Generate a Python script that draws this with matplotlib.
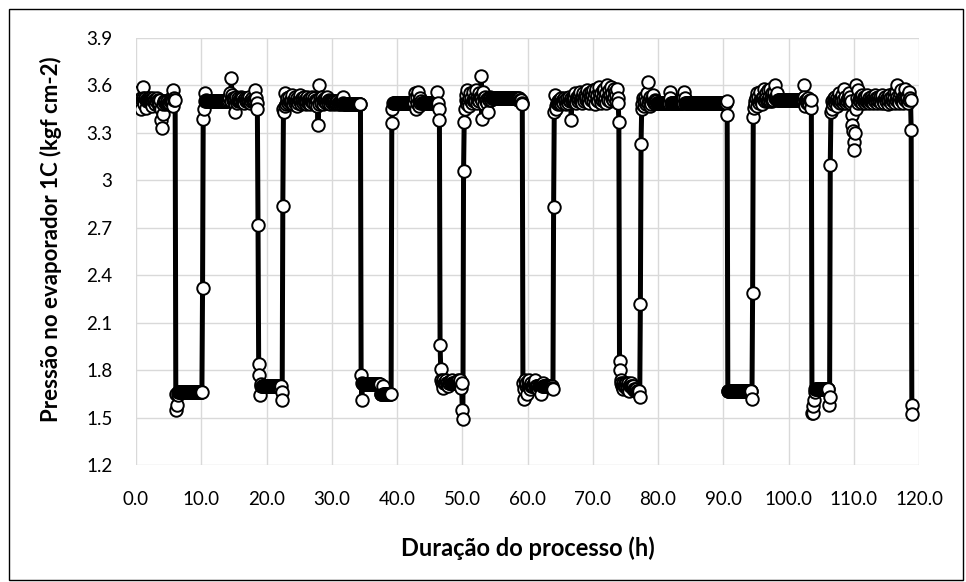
import numpy as np
import matplotlib.pyplot as plt
from matplotlib.patches import Rectangle
from matplotlib.ticker import MultipleLocator, FuncFormatter

# leituras a cada 6 min (0.1 h); uma linha = 1 h de processo
dt_h = 0.1
pressao = [
    3.54, 3.52, 3.50, 3.47, 3.51, 3.56, 3.50, 3.45, 3.52, 3.51,   # 0 h
    3.59, 3.52, 3.51, 3.48, 3.52, 3.51, 3.46, 3.50, 3.52, 3.51,
    3.51, 3.52, 3.51, 3.50, 3.47, 3.51, 3.52, 3.51, 3.50, 3.48,
    3.51, 3.50, 3.52, 3.51, 3.50, 3.47, 3.49, 3.51, 3.45, 3.38,
    3.33, 3.42, 3.48, 3.50, 3.49, 3.50, 3.48, 3.49, 3.50, 3.49,
    3.48, 3.49, 3.50, 3.52, 3.51, 3.50, 3.47, 3.57, 3.52, 3.51,
    3.51, 1.65, 1.55, 1.58, 1.64, 1.66, 1.66, 1.66, 1.66, 1.66,
    1.66, 1.66, 1.66, 1.66, 1.66, 1.66, 1.66, 1.66, 1.66, 1.66,
    1.66, 1.66, 1.66, 1.66, 1.66, 1.66, 1.66, 1.66, 1.66, 1.66,
    1.66, 1.66, 1.66, 1.66, 1.66, 1.66, 1.66, 1.66, 1.66, 1.66,
    1.66, 1.66, 2.32, 3.39, 3.45, 3.55, 3.50, 3.51, 3.50, 3.50,   # 10 h
    3.50, 3.50, 3.50, 3.50, 3.50, 3.50, 3.50, 3.50, 3.50, 3.50,
    3.50, 3.50, 3.50, 3.50, 3.50, 3.50, 3.50, 3.50, 3.50, 3.50,
    3.50, 3.50, 3.50, 3.50, 3.50, 3.50, 3.50, 3.50, 3.50, 3.50,
    3.50, 3.51, 3.52, 3.53, 3.55, 3.50, 3.65, 3.54, 3.52, 3.51,
    3.50, 3.48, 3.43, 3.51, 3.53, 3.49, 3.50, 3.52, 3.51, 3.50,
    3.51, 3.53, 3.50, 3.52, 3.50, 3.51, 3.49, 3.52, 3.50, 3.51,
    3.52, 3.50, 3.51, 3.53, 3.50, 3.49, 3.51, 3.50, 3.52, 3.51,
    3.50, 3.51, 3.52, 3.57, 3.52, 3.49, 3.45, 2.72, 1.84, 1.77,
    1.64, 1.70, 1.71, 1.70, 1.70, 1.70, 1.70, 1.70, 1.70, 1.70,
    1.70, 1.70, 1.70, 1.70, 1.70, 1.70, 1.70, 1.70, 1.70, 1.70,   # 20 h
    1.70, 1.70, 1.70, 1.70, 1.70, 1.70, 1.70, 1.70, 1.70, 1.70,
    1.70, 1.69, 1.70, 1.66, 1.61, 2.84, 3.45, 3.43, 3.47, 3.55,
    3.48, 3.50, 3.52, 3.49, 3.50, 3.53, 3.50, 3.49, 3.51, 3.54,
    3.50, 3.48, 3.51, 3.53, 3.49, 3.50, 3.47, 3.52, 3.50, 3.49,
    3.51, 3.54, 3.50, 3.48, 3.52, 3.50, 3.49, 3.53, 3.50, 3.51,
    3.48, 3.50, 3.53, 3.49, 3.51, 3.50, 3.52, 3.48, 3.50, 3.51,
    3.53, 3.50, 3.49, 3.52, 3.50, 3.48, 3.51, 3.50, 3.47, 3.35,
    3.48, 3.60, 3.52, 3.50, 3.49, 3.53, 3.51, 3.48, 3.50, 3.52,
    3.50, 3.49, 3.51, 3.53, 3.50, 3.49, 3.51, 3.50, 3.48, 3.50,
    3.50, 3.49, 3.50, 3.48, 3.50, 3.49, 3.50, 3.49, 3.50, 3.49,   # 30 h
    3.48, 3.49, 3.50, 3.48, 3.49, 3.48, 3.50, 3.53, 3.49, 3.48,
    3.48, 3.48, 3.48, 3.48, 3.48, 3.48, 3.48, 3.48, 3.48, 3.48,
    3.48, 3.48, 3.48, 3.48, 3.48, 3.48, 3.48, 3.48, 3.48, 3.48,
    3.48, 3.48, 3.48, 3.48, 3.48, 1.77, 1.61, 1.72, 1.71, 1.71,
    1.71, 1.71, 1.71, 1.71, 1.71, 1.71, 1.71, 1.71, 1.71, 1.71,
    1.71, 1.71, 1.71, 1.71, 1.71, 1.71, 1.71, 1.71, 1.71, 1.71,
    1.71, 1.71, 1.71, 1.71, 1.71, 1.65, 1.65, 1.65, 1.70, 1.65,
    1.65, 1.65, 1.65, 1.65, 1.65, 1.65, 1.65, 1.65, 1.65, 1.65,
    1.65, 1.65, 3.36, 3.45, 3.49, 3.49, 3.49, 3.49, 3.49, 3.49,
    3.49, 3.49, 3.49, 3.49, 3.49, 3.49, 3.49, 3.49, 3.49, 3.49,   # 40 h
    3.49, 3.49, 3.49, 3.49, 3.49, 3.49, 3.49, 3.49, 3.49, 3.49,
    3.49, 3.49, 3.49, 3.49, 3.49, 3.49, 3.49, 3.55, 3.52, 3.45,
    3.49, 3.53, 3.56, 3.50, 3.47, 3.52, 3.49, 3.50, 3.49, 3.49,
    3.49, 3.49, 3.49, 3.49, 3.49, 3.49, 3.49, 3.49, 3.49, 3.49,
    3.49, 3.49, 3.49, 3.49, 3.49, 3.49, 3.49, 3.49, 3.49, 3.49,
    3.49, 3.49, 3.56, 3.49, 3.45, 3.38, 1.96, 1.81, 1.74, 1.72,
    1.69, 1.74, 1.72, 1.72, 1.72, 1.74, 1.72, 1.72, 1.70, 1.72,
    1.72, 1.73, 1.72, 1.72, 1.74, 1.72, 1.72, 1.72, 1.72, 1.72,
    1.72, 1.72, 1.72, 1.72, 1.74, 1.72, 1.72, 1.74, 1.69, 1.72,
    1.55, 1.49, 3.06, 3.37, 3.45, 3.51, 3.54, 3.48, 3.57, 3.50,   # 50 h
    3.52, 3.47, 3.55, 3.50, 3.52, 3.49, 3.56, 3.51, 3.50, 3.53,
    3.50, 3.57, 3.49, 3.52, 3.51, 3.55, 3.50, 3.53, 3.52, 3.66,
    3.39, 3.50, 3.56, 3.52, 3.48, 3.53, 3.51, 3.50, 3.49, 3.52,
    3.43, 3.51, 3.53, 3.52, 3.51, 3.52, 3.52, 3.52, 3.52, 3.52,
    3.52, 3.52, 3.52, 3.52, 3.52, 3.52, 3.52, 3.52, 3.52, 3.52,
    3.52, 3.52, 3.52, 3.52, 3.52, 3.52, 3.52, 3.52, 3.52, 3.52,
    3.52, 3.52, 3.52, 3.52, 3.52, 3.52, 3.52, 3.52, 3.52, 3.52,
    3.52, 3.52, 3.52, 3.52, 3.52, 3.51, 3.52, 3.52, 3.51, 3.51,
    3.51, 3.49, 3.48, 1.72, 1.62, 1.68, 1.74, 1.70, 1.72, 1.65,
    1.70, 1.73, 1.70, 1.74, 1.68, 1.70, 1.72, 1.70, 1.70, 1.70,   # 60 h
    1.72, 1.70, 1.74, 1.70, 1.70, 1.70, 1.68, 1.70, 1.70, 1.70,
    1.70, 1.65, 1.70, 1.72, 1.70, 1.70, 1.70, 1.70, 1.70, 1.70,
    1.70, 1.70, 1.70, 1.70, 1.70, 1.70, 1.70, 1.70, 1.69, 1.68,
    2.83, 3.43, 3.54, 3.47, 3.45, 3.49, 3.50, 3.48, 3.51, 3.49,
    3.50, 3.52, 3.48, 3.50, 3.51, 3.49, 3.52, 3.50, 3.51, 3.48,
    3.50, 3.52, 3.49, 3.51, 3.53, 3.50, 3.52, 3.38, 3.50, 3.51,
    3.53, 3.50, 3.52, 3.55, 3.51, 3.49, 3.53, 3.50, 3.52, 3.54,
    3.51, 3.56, 3.50, 3.53, 3.49, 3.55, 3.52, 3.50, 3.54, 3.51,
    3.53, 3.57, 3.50, 3.52, 3.55, 3.49, 3.53, 3.56, 3.51, 3.54,
    3.50, 3.57, 3.53, 3.48, 3.55, 3.58, 3.51, 3.54, 3.50, 3.56,   # 70 h
    3.59, 3.52, 3.49, 3.55, 3.51, 3.57, 3.53, 3.50, 3.58, 3.52,
    3.55, 3.49, 3.60, 3.53, 3.51, 3.57, 3.54, 3.50, 3.59, 3.52,
    3.55, 3.51, 3.58, 3.53, 3.56, 3.50, 3.54, 3.58, 3.52, 3.49,
    3.37, 1.86, 1.80, 1.74, 1.72, 1.70, 1.72, 1.68, 1.70, 1.72,
    1.70, 1.72, 1.68, 1.70, 1.72, 1.70, 1.67, 1.70, 1.72, 1.70,
    1.70, 1.68, 1.70, 1.68, 1.67, 1.68, 1.67, 1.68, 1.67, 1.67,
    1.67, 1.67, 1.63, 2.22, 3.23, 3.45, 3.48, 3.52, 3.47, 3.50,
    3.53, 3.48, 3.50, 3.55, 3.49, 3.62, 3.51, 3.47, 3.53, 3.50,
    3.48, 3.52, 3.50, 3.54, 3.49, 3.51, 3.49, 3.50, 3.49, 3.49,
    3.49, 3.49, 3.49, 3.49, 3.49, 3.49, 3.49, 3.49, 3.49, 3.49,   # 80 h
    3.49, 3.49, 3.49, 3.49, 3.49, 3.49, 3.49, 3.49, 3.56, 3.52,
    3.49, 3.49, 3.49, 3.49, 3.49, 3.49, 3.49, 3.49, 3.49, 3.49,
    3.49, 3.49, 3.49, 3.49, 3.49, 3.49, 3.49, 3.49, 3.49, 3.53,
    3.56, 3.52, 3.49, 3.49, 3.49, 3.49, 3.49, 3.49, 3.49, 3.49,
    3.49, 3.49, 3.49, 3.49, 3.49, 3.49, 3.49, 3.49, 3.49, 3.49,
    3.49, 3.49, 3.49, 3.49, 3.49, 3.49, 3.49, 3.49, 3.49, 3.49,
    3.49, 3.49, 3.49, 3.49, 3.49, 3.49, 3.49, 3.49, 3.49, 3.49,
    3.49, 3.49, 3.49, 3.49, 3.49, 3.49, 3.49, 3.49, 3.49, 3.49,
    3.49, 3.49, 3.49, 3.49, 3.49, 3.49, 3.49, 3.49, 3.49, 3.49,
    3.49, 3.49, 3.49, 3.49, 3.49, 3.50, 3.41, 1.67, 1.67, 1.67,   # 90 h
    1.67, 1.67, 1.67, 1.67, 1.67, 1.67, 1.67, 1.67, 1.67, 1.67,
    1.67, 1.67, 1.67, 1.67, 1.67, 1.67, 1.67, 1.67, 1.67, 1.67,
    1.67, 1.67, 1.67, 1.67, 1.67, 1.67, 1.67, 1.67, 1.67, 1.67,
    1.67, 1.67, 1.67, 1.67, 1.62, 2.29, 3.40, 3.46, 3.50, 3.48,
    3.52, 3.47, 3.55, 3.50, 3.53, 3.49, 3.51, 3.56, 3.50, 3.52,
    3.48, 3.53, 3.58, 3.51, 3.50, 3.55, 3.52, 3.50, 3.57, 3.51,
    3.53, 3.50, 3.58, 3.52, 3.55, 3.50, 3.53, 3.51, 3.56, 3.52,
    3.60, 3.53, 3.51, 3.55, 3.51, 3.51, 3.51, 3.51, 3.51, 3.51,
    3.51, 3.51, 3.51, 3.51, 3.51, 3.51, 3.51, 3.51, 3.51, 3.51,
    3.51, 3.51, 3.51, 3.51, 3.51, 3.51, 3.51, 3.51, 3.51, 3.51,   # 100 h
    3.51, 3.51, 3.51, 3.51, 3.51, 3.51, 3.51, 3.51, 3.51, 3.51,
    3.51, 3.51, 3.51, 3.60, 3.53, 3.50, 3.47, 3.51, 3.49, 3.51,
    3.52, 3.50, 3.48, 3.51, 3.46, 3.51, 1.53, 1.53, 1.57, 1.61,
    1.66, 1.68, 1.68, 1.68, 1.68, 1.68, 1.68, 1.68, 1.68, 1.68,
    1.68, 1.68, 1.68, 1.68, 1.68, 1.68, 1.68, 1.68, 1.68, 1.68,
    1.68, 1.68, 1.58, 1.63, 3.10, 3.43, 3.45, 3.50, 3.48, 3.52,
    3.50, 3.53, 3.49, 3.51, 3.47, 3.52, 3.50, 3.55, 3.51, 3.49,
    3.52, 3.50, 3.54, 3.49, 3.51, 3.58, 3.50, 3.53, 3.49, 3.51,
    3.50, 3.52, 3.55, 3.50, 3.49, 3.53, 3.50, 3.41, 3.35, 3.31,
    3.24, 3.19, 3.30, 3.45, 3.60, 3.52, 3.49, 3.57, 3.51, 3.53,   # 110 h
    3.50, 3.52, 3.49, 3.54, 3.51, 3.50, 3.53, 3.49, 3.52, 3.50,
    3.51, 3.54, 3.50, 3.49, 3.52, 3.50, 3.53, 3.51, 3.50, 3.52,
    3.49, 3.51, 3.54, 3.50, 3.52, 3.49, 3.51, 3.53, 3.50, 3.51,
    3.53, 3.50, 3.49, 3.52, 3.54, 3.50, 3.51, 3.49, 3.53, 3.51,
    3.50, 3.52, 3.48, 3.51, 3.54, 3.50, 3.52, 3.49, 3.51, 3.53,
    3.50, 3.55, 3.52, 3.49, 3.51, 3.56, 3.60, 3.53, 3.50, 3.52,
    3.49, 3.55, 3.51, 3.57, 3.50, 3.53, 3.49, 3.52, 3.58, 3.51,
    3.53, 3.50, 3.52, 3.49, 3.51, 3.56, 3.52, 3.51, 3.32, 1.58,
    1.52,
]
tempo = np.arange(len(pressao)) * dt_h

xlabel = "Duração do processo (h)"
ylabel = "Pressão no evaporador 1C (kgf cm-2)"

plt.rcParams['font.family'] = ['Lato', 'DejaVu Sans']

fig = plt.figure(figsize=(9.66, 5.82), dpi=100)
ax = fig.add_axes([136/966, 1-465/582, 783/966, 427/582])

ax.plot(tempo, pressao, '-o', color='black', lw=3.6,
        ms=9.0, mfc='white', mec='black', mew=1.4, zorder=3)

ax.set_xlim(0, 120)
ax.set_ylim(1.2, 3.9)
ax.xaxis.set_major_locator(MultipleLocator(10))
ax.yaxis.set_major_locator(MultipleLocator(0.3))
ax.xaxis.set_major_formatter(FuncFormatter(lambda v, p: "%.1f" % v))
ax.yaxis.set_major_formatter(FuncFormatter(lambda v, p: ("%.1f" % v).rstrip('0').rstrip('.')))

ax.grid(True, color='#d9d9d9', lw=1.0, zorder=0)
ax.set_axisbelow(True)
for s in ax.spines.values():
    s.set_visible(False)
ax.tick_params(length=0, labelsize=13.5, colors='#000000', pad=17)
ax.tick_params(axis='x', pad=19)

ax.set_xlabel(xlabel, fontsize=17, fontweight='bold')
ax.set_ylabel(ylabel, fontsize=16, fontweight='bold')
ax.xaxis.set_label_coords(0.5, -0.168)
ax.yaxis.set_label_coords(-0.094, 0.53)

# moldura do gráfico
fig.patches.append(Rectangle((9/966, 1-580/582), 954/966, 571/582,
                             transform=fig.transFigure, fill=False,
                             ec='black', lw=1.0))

fig.savefig('out.png', dpi=100)
